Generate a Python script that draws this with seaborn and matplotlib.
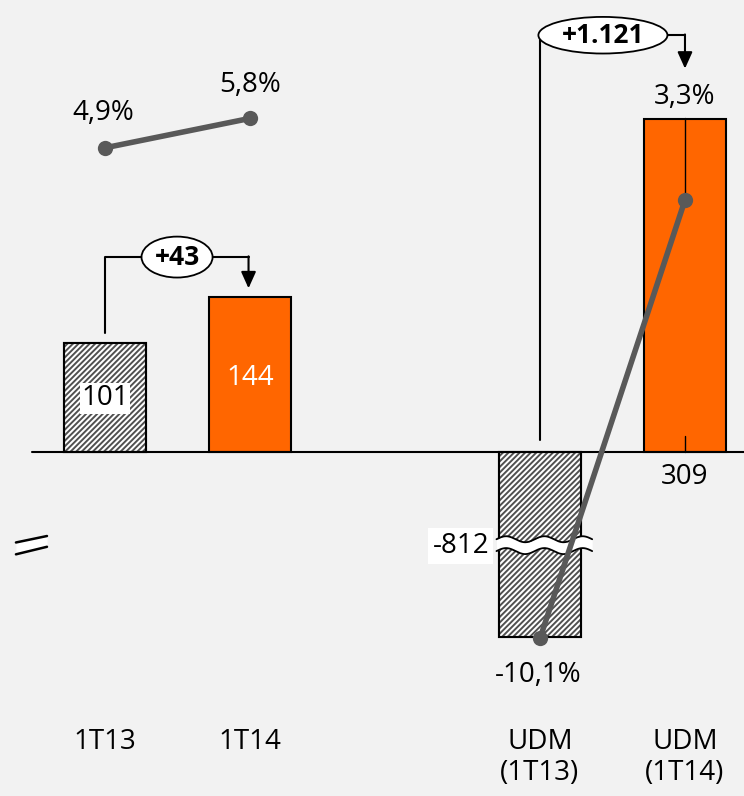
import numpy as np
import pandas as pd
import matplotlib.pyplot as plt
import seaborn as sns
from matplotlib.patches import Ellipse, Rectangle

# ---- data ----
CATEGORIES = ["1T13", "1T14", "UDM\n(1T13)", "UDM\n(1T14)"]
BAR_VALUES = [101, 144, -812, 309]
BAR_LABELS = ["101", "144", "-812", "309"]
PCT_VALUES = [4.9, 5.8, -10.1, 3.3]
PCT_LABELS = ["4,9%", "5,8%", "-10,1%", "3,3%"]
DELTA_LABELS = ["+43", "+1.121"]

# ---- layout ----
POS = [0, 1, 3, 4]
BREAK_FLOOR = -172          # axis break: bars below this are cut
BG = "#F2F2F2"
ORANGE = "#FF6600"
GREY = "#595959"
FONT = "Open Sans"
FS = 20

sns.set_style("white")
plt.rcParams["font.family"] = [FONT, "DejaVu Sans"]
plt.rcParams["text.color"] = "black"
plt.rcParams["hatch.linewidth"] = 1.4

fig = plt.figure(figsize=(7.44, 7.96), dpi=100, facecolor=BG)
ax = fig.add_axes([0, 0, 1, 1], facecolor=BG)

shown = [max(v, BREAK_FLOOR) for v in BAR_VALUES]
df = pd.DataFrame({"pos": POS, "val": shown, "cat": CATEGORIES})
colors = ["white", ORANGE, "white", ORANGE]
sns.barplot(data=df, x="pos", y="val", hue="cat", palette=colors, native_scale=True,
            saturation=1, width=0.566, edgecolor="black", linewidth=1.5,
            legend=False, ax=ax, zorder=2)
for i, p in enumerate(list(ax.patches)):
    if colors[i % 4] == "white":
        p.set_hatch("//////")
        p.set_edgecolor("#505050")
        ax.add_patch(Rectangle(p.get_xy(), p.get_width(), p.get_height(),
                               fill=False, ec="black", lw=1.5, zorder=2.5))

ax.set_xlim(-0.724, 4.407)
ax.set_ylim(-319.4, 419.7)
ax.axis("off")

# baseline
ax.plot([-0.503, 4.407], [0, 0], color="black", lw=1.5, zorder=3)

# bar labels
ax.text(POS[0], 50, BAR_LABELS[0], ha="center", va="center", fontsize=FS,
        bbox=dict(fc="white", ec="none", pad=1), zorder=4)
ax.text(POS[1], 69, BAR_LABELS[1], ha="center", va="center", fontsize=FS,
        color="white", zorder=4)
ax.text(2.455, -87, BAR_LABELS[2], ha="center", va="center", fontsize=FS,
        bbox=dict(fc="white", ec="none", pad=3), zorder=6)
ax.text(POS[3], -23, BAR_LABELS[3], ha="center", va="center", fontsize=FS, zorder=4)
ax.plot([POS[3], POS[3]], [0, 15], color="black", lw=1, zorder=3)

# wavy break across the cut bar
wx = np.linspace(2.70, 3.36, 200)
wave = 2.8 * np.sin((wx - 2.70) / 0.66 * 2 * np.pi * 2.5)
ax.fill_between(wx, -81 + wave, -92 + wave, color="white", zorder=5, lw=0)
ax.plot(wx, -81 + wave, color="black", lw=1.3, zorder=5)
ax.plot(wx, -92 + wave, color="black", lw=1.3, zorder=5)

# axis-break mark on the left
bx = np.array([-0.614, -0.400])
ax.fill_between(bx, [-84, -78], [-95, -88], color="white", lw=0, zorder=3)
ax.plot(bx, [-84, -78], color="black", lw=1.8, zorder=3)
ax.plot(bx, [-95, -88], color="black", lw=1.8, zorder=3)

# delta brackets
def bracket(x0, x1, y0, ytop, ytip, xc, w, h, label):
    ax.plot([x0, x0, x1], [y0, ytop, ytop], color="black", lw=1.5, zorder=3)
    ax.annotate("", xy=(x1, ytip), xytext=(x1, ytop + 0.7),
                arrowprops=dict(arrowstyle="-|>,head_length=1.0,head_width=0.45",
                                color="black", lw=1.5, shrinkA=0, shrinkB=0),
                zorder=3)
    ax.add_patch(Ellipse((xc, ytop), w, h, fc="white", ec="black", lw=1.3, zorder=4))
    ax.text(xc, ytop, label, ha="center", va="center", fontsize=19,
            fontweight="bold", zorder=5)

bracket(POS[0], 0.99, 110.5, 181, 152, 0.497, 0.49, 38, DELTA_LABELS[0])
bracket(3.0, 4.0, 11, 387, 356, 3.434, 0.89, 34, DELTA_LABELS[1])

# category labels
for x, c in zip(POS, CATEGORIES):
    ax.text(x, -256, c, ha="center", va="top", fontsize=FS, linespacing=1.15)

# percent line on its own scale
ax2 = ax.twinx()
ax2.set_ylim(-14.92, 9.42)
ax2.axis("off")
for seg in (slice(0, 2), slice(2, 4)):
    sns.lineplot(x=POS[seg], y=PCT_VALUES[seg], color=GREY, lw=4, marker="o",
                 markersize=11, markeredgewidth=0, ax=ax2, zorder=7)
ax2.set_xlim(-0.724, 4.407)

ax2.plot([POS[3], POS[3]], [5.8, PCT_VALUES[3]], color="black", lw=1, zorder=6)
ax2.text(POS[0] - 0.01, 5.96, PCT_LABELS[0], ha="center", va="center", fontsize=FS)
ax2.text(POS[1], 6.82, PCT_LABELS[1], ha="center", va="center", fontsize=FS)
ax2.text(POS[2] - 0.01, -11.22, PCT_LABELS[2], ha="center", va="center", fontsize=FS)
ax2.text(POS[3], 6.45, PCT_LABELS[3], ha="center", va="center", fontsize=FS)

fig.savefig("out.png", dpi=100, facecolor=BG)
